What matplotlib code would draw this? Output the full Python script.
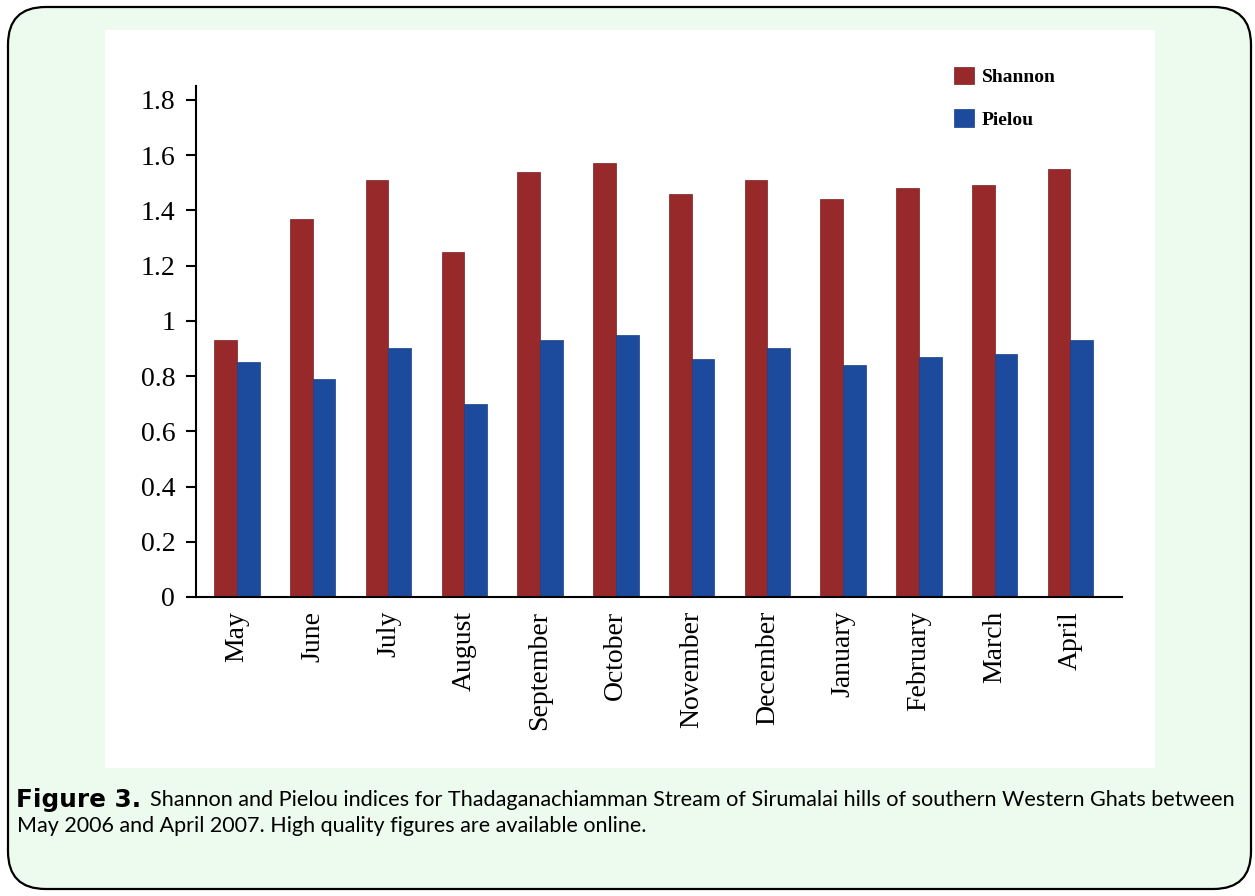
import numpy as np
import matplotlib.pyplot as plt
from matplotlib.patches import FancyBboxPatch, Rectangle

months = ['May', 'June', 'July', 'August', 'September', 'October', 'November',
          'December', 'January', 'February', 'March', 'April']
shannon = [0.93, 1.37, 1.51, 1.25, 1.54, 1.57, 1.46, 1.51, 1.44, 1.48, 1.49, 1.55]
pielou = [0.85, 0.79, 0.90, 0.70, 0.93, 0.95, 0.86, 0.90, 0.84, 0.87, 0.88, 0.93]
yticks = [0, 0.2, 0.4, 0.6, 0.8, 1, 1.2, 1.4, 1.6, 1.8]
ytick_labels = ['0', '0.2', '0.4', '0.6', '0.8', '1', '1.2', '1.4', '1.6', '1.8']

W, H = 1255, 896
fig = plt.figure(figsize=(W / 100, H / 100), dpi=100)
fig.patch.set_facecolor('white')

# green rounded frame
frame = FancyBboxPatch((8 / W, 7 / H), (1243 / W), (882 / H),
                       boxstyle='round,pad=0,rounding_size=0.03',
                       transform=fig.transFigure, facecolor='#edfbee',
                       edgecolor='black', linewidth=1.6, mutation_aspect=W / H,
                       zorder=-10)
fig.patches.append(frame)
# white panel behind chart
panel = Rectangle((105 / W, (H - 768) / H), 1050 / W, 738 / H,
                  transform=fig.transFigure, facecolor='white', edgecolor='none',
                  zorder=-9)
fig.patches.append(panel)

ax = fig.add_axes([196 / W, (H - 597) / H, (1122 - 196) / W, (597 - 86) / H])
ax.set_facecolor('none')
x = np.arange(len(months))
w = 0.3
ax.bar(x - w, shannon, w, align='edge', color='#98292b', edgecolor='#7a1f20', linewidth=0.5, label='Shannon')
ax.bar(x, pielou, w, align='edge', color='#1c4a9c', edgecolor='#163f88', linewidth=0.5, label='Pielou')

ax.set_ylim(0, 1.85)
ax.set_xlim(-0.54, 11.68)
ax.set_yticks(yticks)
ax.set_yticklabels(ytick_labels, fontfamily='Liberation Serif', fontsize=20)
ax.set_xticks(x)
ax.set_xticklabels(months, rotation=90, fontfamily='Liberation Serif', fontsize=20)
ax.tick_params(axis='x', length=0, pad=10)
ax.tick_params(axis='y', length=7, width=1.5, pad=8)
for s in ['top', 'right']:
    ax.spines[s].set_visible(False)
for s in ['left', 'bottom']:
    ax.spines[s].set_linewidth(1.5)

ax.legend(loc='upper left', bbox_to_anchor=(0.80, 1.072), frameon=False,
          prop={'family': 'Liberation Serif', 'weight': 'bold', 'size': 14},
          handlelength=1.0, handleheight=1.0, labelspacing=1.2, handletextpad=0.4)

fig.text(16 / W, 1 - 800 / H, 'Figure 3.', fontfamily='DejaVu Sans', fontweight='bold',
         fontsize=17.8, va='center')
fig.text(150 / W, 1 - 800 / H,
         'Shannon and Pielou indices for Thadaganachiamman Stream of Sirumalai hills of southern Western Ghats between',
         fontfamily='Lato', fontsize=15.6, va='center')
fig.text(17 / W, 1 - 826 / H,
         'May 2006 and April 2007. High quality figures are available online.',
         fontfamily='Lato', fontsize=15.5, va='center')

fig.savefig('out.png', dpi=100)
